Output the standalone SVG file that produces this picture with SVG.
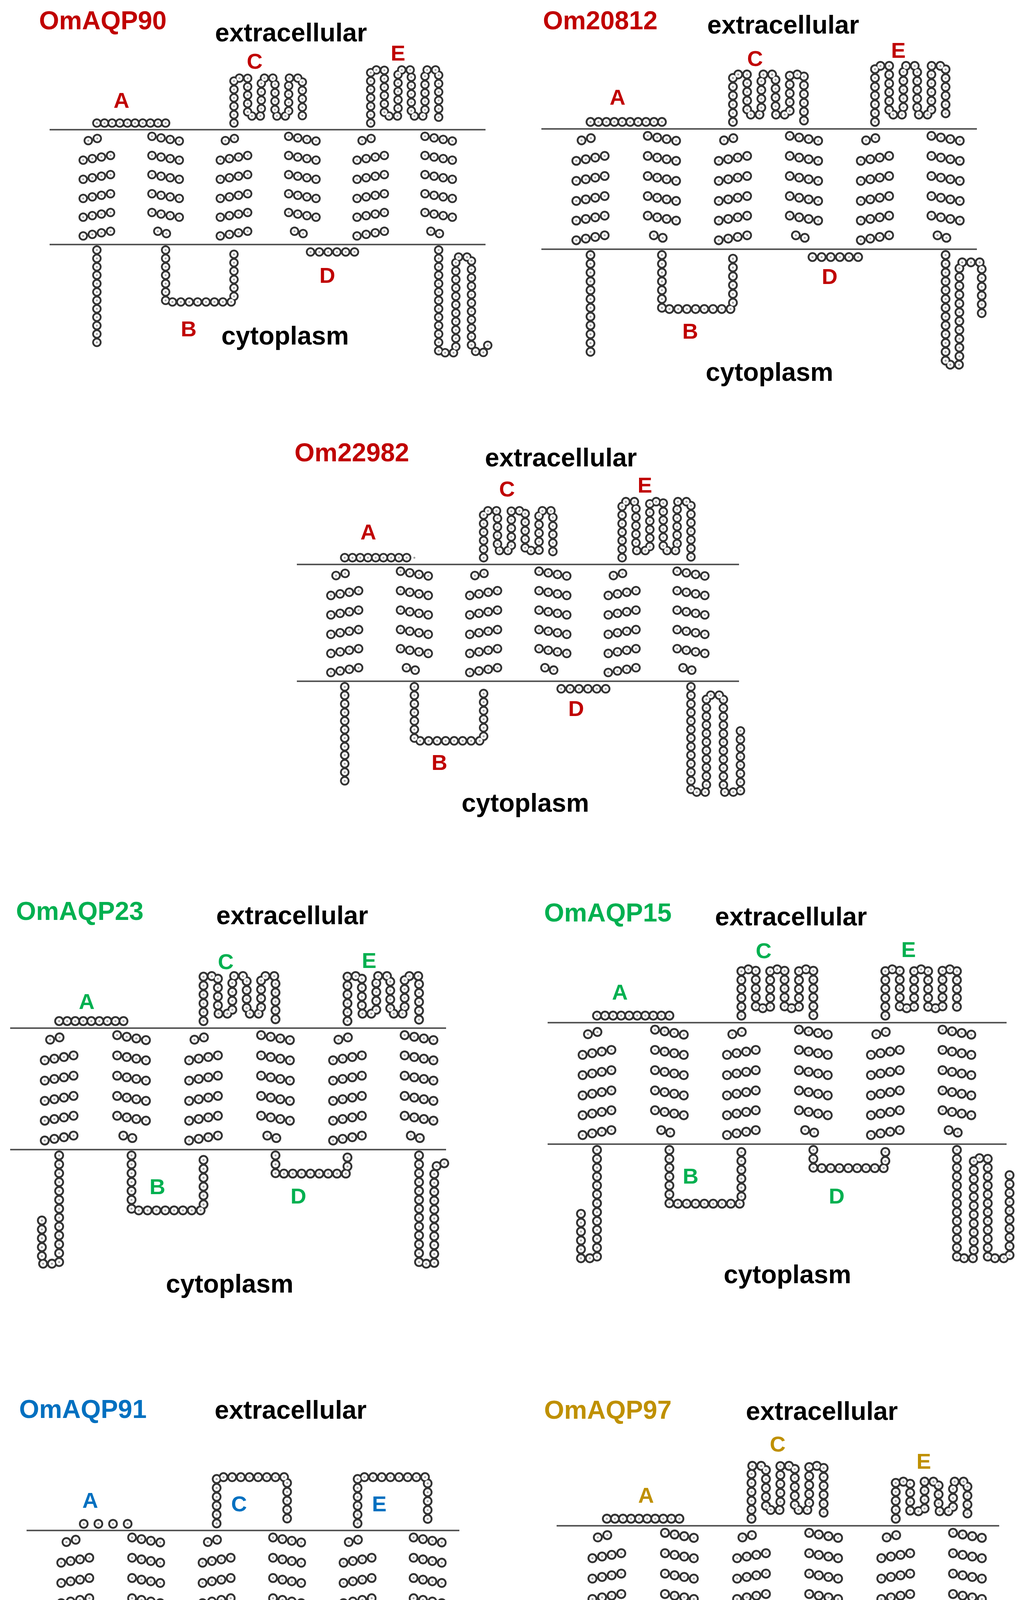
<svg xmlns="http://www.w3.org/2000/svg" xmlns:xlink="http://www.w3.org/1999/xlink" width="2619" height="4647" viewBox="0 0 2619 4647">
<style>
path{fill:none;stroke-linecap:round}
.r{stroke-dasharray:0 1}
.q{stroke-dasharray:0 21.5}
.ring{stroke:#333333;stroke-width:24}
.inner{stroke:#ffffff;stroke-width:15}
.dot{stroke:#a0a0a0;stroke-width:5}
.mem{stroke:#555;stroke-width:4}
text{font-family:"Liberation Sans",Arial,sans-serif;font-weight:bold}
.t{font-size:66px}
.x{font-size:66px;fill:#000;text-anchor:middle}
.l{font-size:56px;text-anchor:middle}
.red{fill:#c00000}.grn{fill:#00b050}.blu{fill:#0070c0}.gld{fill:#bf9000}
</style>
<defs>
<g id="helices">
<path class="r" pathLength="2" d="M99,28L145,17"/><path class="r" pathLength="3" d="M86,78L156,66"/><path class="r" pathLength="3" d="M86,127L156,115"/><path class="r" pathLength="3" d="M86,176L156,164"/><path class="r" pathLength="3" d="M86,224L156,212"/><path class="r" pathLength="3" d="M86,272L156,260"/>
<path class="r" pathLength="2" d="M450,28L496,17"/><path class="r" pathLength="3" d="M437,78L507,66"/><path class="r" pathLength="3" d="M437,127L507,115"/><path class="r" pathLength="3" d="M437,176L507,164"/><path class="r" pathLength="3" d="M437,224L507,212"/><path class="r" pathLength="3" d="M437,272L507,260"/>
<path class="r" pathLength="2" d="M800,28L846,17"/><path class="r" pathLength="3" d="M787,78L857,66"/><path class="r" pathLength="3" d="M787,127L857,115"/><path class="r" pathLength="3" d="M787,176L857,164"/><path class="r" pathLength="3" d="M787,224L857,212"/><path class="r" pathLength="3" d="M787,272L857,260"/>
<path class="r" pathLength="3" d="M262,17L332,29"/><path class="r" pathLength="3" d="M262,66L332,78"/><path class="r" pathLength="3" d="M262,115L332,127"/><path class="r" pathLength="3" d="M262,164L332,176"/><path class="r" pathLength="3" d="M262,212L332,224"/><path class="r" pathLength="2" d="M277,260L321,272"/>
<path class="r" pathLength="3" d="M612,17L682,29"/><path class="r" pathLength="3" d="M612,66L682,78"/><path class="r" pathLength="3" d="M612,115L682,127"/><path class="r" pathLength="3" d="M612,164L682,176"/><path class="r" pathLength="3" d="M612,212L682,224"/><path class="r" pathLength="2" d="M627,260L671,272"/>
<path class="r" pathLength="3" d="M961,17L1031,29"/><path class="r" pathLength="3" d="M961,66L1031,78"/><path class="r" pathLength="3" d="M961,115L1031,127"/><path class="r" pathLength="3" d="M961,164L1031,176"/><path class="r" pathLength="3" d="M961,212L1031,224"/><path class="r" pathLength="2" d="M976,260L1020,272"/>
</g>
<path id="A" class="r" pathLength="9" d="M121,-17H297"/>
<path id="Dh" class="r" pathLength="6" d="M668,313H803"/>
<g id="c1"><use href="#helices"/><use href="#A"/><use href="#Dh"/>
<path class="q" d="M472,-17V-132H507V-35H542V-132H577V-35H612V-132H647V-17"/>
<path class="q" d="M822,-17V-153H857V-35H892V-153H926V-35H961V-153H996V-17"/>
<path class="q" d="M121,308V553"/><path class="q" d="M297,308V441H472V308"/>
<path class="q" d="M996,308V571H1040V326H1080V559L1095,571H1110L1126,545"/></g>
<g id="c2"><use href="#helices"/><use href="#A"/><use href="#Dh"/>
<path class="q" d="M472,-17V-133H507V-35H542V-133H577V-35H612V-133H647V-17"/>
<path class="q" d="M822,-17V-154H857V-35H892V-154H926V-35H961V-154H996V-17"/>
<path class="q" d="M121,308V549"/><path class="q" d="M297,308V440H472V308"/>
<path class="q" d="M996,308V576H1030V326H1085V461"/></g>
<g id="c3"><use href="#helices"/><use href="#A"/><use href="#Dh"/>
<path class="q" d="M472,-17V-135H507V-35H542V-135H577V-35H612V-135H647V-17"/>
<path class="q" d="M822,-17V-158H857V-35H892V-158H926V-35H961V-158H996V-17"/>
<path class="q" d="M121,308V553"/><path class="q" d="M297,308V444H472V308"/>
<path class="q" d="M996,308V573H1035V329H1078V573H1121V415"/></g>
<g id="c4"><use href="#helices"/><use href="#A"/>
<path class="q" d="M472,-17V-126H507V-35H542V-126H577V-35H612V-126H647V-17"/>
<path class="q" d="M822,-17V-126H857V-35H892V-126H926V-35H961V-126H996V-17"/>
<path class="q" d="M121,308V570H79V461"/><path class="q" d="M297,308V441H472V308"/>
<path class="q" d="M647,308V352H822V308"/>
<path class="q" d="M996,308V570H1033V340L1045,327H1075"/></g>
<g id="c5"><use href="#helices"/><use href="#A"/>
<path class="q" d="M472,-17V-129H507V-35H542V-129H577V-35H612V-129H647V-17"/>
<path class="q" d="M822,-17V-129H857V-35H892V-129H926V-35H961V-129H996V-17"/>
<path class="q" d="M121,308V570H82V457"/><path class="q" d="M297,308V438H472V308"/>
<path class="q" d="M647,308V352H822V308"/>
<path class="q" d="M996,308V570H1037V328H1071V570H1124V352"/></g>
<g id="c6"><use href="#helices"/>
<path class="r" pathLength="3" d="M142,-16H251"/>
<path class="q" d="M472,-17V-129H647V-17"/>
<path class="q" d="M822,-17V-129H996V-17"/>
<path class="q" d="M121,308V578H81V352L66,338H44"/><path class="q" d="M297,308V441H472V308"/>
<path class="q" d="M647,308V336H822V308"/>
<path class="q" d="M996,308V573H1032V331H1086V510"/></g>
<g id="c7"><use href="#helices"/><use href="#A"/>
<path class="q" d="M472,-17V-144H507V-38H542V-144H577V-38H612V-144H647V-17"/>
<path class="q" d="M822,-17V-106H857V-35H892V-106H926V-35H961V-106H996V-17"/>
<path class="q" d="M121,308V570H79V416"/><path class="q" d="M297,308V398H354V326H412V398H472V308"/>
<path class="q" d="M647,308V357H822V308"/>
<path class="q" d="M996,308V570H1038V330H1080V487"/></g>
</defs>
<rect width="2619" height="4647" fill="#fff"/>

<g id="panel-OmAQP90">
<g transform="translate(127,332)"><use href="#c1" class="ring"/><use href="#c1" class="inner"/><use href="#c1" class="dot"/></g>
<line class="mem" x1="127" y1="332" x2="1243" y2="332"/><line class="mem" x1="127" y1="626" x2="1243" y2="626"/>
<text class="t red" x="100" y="75">OmAQP90</text>
<text class="x" x="745" y="106">extracellular</text><text class="x" x="730" y="882">cytoplasm</text>
<g class="red"><text class="l" x="311" y="276">A</text><text class="l" x="652" y="176">C</text><text class="l" x="1019" y="155">E</text><text class="l" x="838" y="724">D</text><text class="l" x="483" y="861">B</text></g>
</g>

<g id="panel-Om20812">
<g transform="translate(1386,330) scale(1.039,1.048)"><use href="#c2" class="ring"/><use href="#c2" class="inner"/><use href="#c2" class="dot"/></g>
<line class="mem" x1="1386" y1="330" x2="2501" y2="330"/><line class="mem" x1="1386" y1="638" x2="2501" y2="638"/>
<text class="t red" x="1390" y="75">Om20812</text>
<text class="x" x="2005" y="86">extracellular</text><text class="x" x="1970" y="975">cytoplasm</text>
<g class="red"><text class="l" x="1581" y="268">A</text><text class="l" x="1933" y="169">C</text><text class="l" x="2300" y="148">E</text><text class="l" x="2124" y="727">D</text><text class="l" x="1767" y="867">B</text></g>
</g>

<g id="panel-Om22982">
<g transform="translate(760,1445) scale(1.013,1.017)"><use href="#c3" class="ring"/><use href="#c3" class="inner"/><use href="#c3" class="dot"/></g>
<line class="mem" x1="760" y1="1445" x2="1892" y2="1445"/><line class="mem" x1="760" y1="1744" x2="1892" y2="1744"/>
<text class="t red" x="754" y="1181">Om22982</text>
<text class="x" x="1436" y="1194">extracellular</text><text class="x" x="1345" y="2078">cytoplasm</text>
<g class="red"><text class="l" x="943" y="1381">A</text><text class="l" x="1298" y="1271">C</text><text class="l" x="1651" y="1261">E</text><text class="l" x="1475" y="1833">D</text><text class="l" x="1125" y="1971">B</text></g>
</g>

<g id="panel-OmAQP23">
<g transform="translate(24,2632) scale(1.053,1.058)"><use href="#c4" class="ring"/><use href="#c4" class="inner"/><use href="#c4" class="dot"/></g>
<line class="mem" x1="26" y1="2632" x2="1142" y2="2632"/><line class="mem" x1="26" y1="2943" x2="1142" y2="2943"/>
<text class="t grn" x="41" y="2355">OmAQP23</text>
<text class="x" x="748" y="2366">extracellular</text><text class="x" x="588" y="3309">cytoplasm</text>
<g class="grn"><text class="l" x="222" y="2583">A</text><text class="l" x="578" y="2481">C</text><text class="l" x="945" y="2478">E</text><text class="l" x="403" y="3057">B</text><text class="l" x="764" y="3081">D</text></g>
</g>

<g id="panel-OmAQP15">
<g transform="translate(1401,2618) scale(1.053,1.058)"><use href="#c5" class="ring"/><use href="#c5" class="inner"/><use href="#c5" class="dot"/></g>
<line class="mem" x1="1402" y1="2618" x2="2577" y2="2618"/><line class="mem" x1="1402" y1="2929" x2="2577" y2="2929"/>
<text class="t grn" x="1393" y="2359">OmAQP15</text>
<text class="x" x="2025" y="2369">extracellular</text><text class="x" x="2016" y="3285">cytoplasm</text>
<g class="grn"><text class="l" x="1587" y="2559">A</text><text class="l" x="1955" y="2453">C</text><text class="l" x="2326" y="2450">E</text><text class="l" x="1768" y="3030">B</text><text class="l" x="2142" y="3081">D</text></g>
</g>

<g id="panel-OmAQP91">
<g transform="translate(68,3918) scale(1.031,1.058)"><use href="#c6" class="ring"/><use href="#c6" class="inner"/><use href="#c6" class="dot"/></g>
<line class="mem" x1="68" y1="3918" x2="1176" y2="3918"/><line class="mem" x1="68" y1="4229" x2="1176" y2="4229"/>
<text class="t blu" x="49" y="3630">OmAQP91</text>
<text class="x" x="744" y="3632">extracellular</text><text class="x" x="605" y="4605">cytoplasm</text>
<g class="blu"><text class="l" x="231" y="3860">A</text><text class="l" x="612" y="3869">C</text><text class="l" x="971" y="3869">E</text><text class="l" x="437" y="4330">B</text><text class="l" x="797" y="4352">D</text></g>
</g>

<g id="panel-OmAQP97">
<g transform="translate(1426,3906) scale(1.055,1.065)"><use href="#c7" class="ring"/><use href="#c7" class="inner"/><use href="#c7" class="dot"/></g>
<line class="mem" x1="1425" y1="3906" x2="2558" y2="3906"/><line class="mem" x1="1425" y1="4219" x2="2558" y2="4219"/>
<text class="t gld" x="1393" y="3632">OmAQP97</text>
<text class="x" x="2104" y="3635">extracellular</text><text class="x" x="2012" y="4583">cytoplasm</text>
<g class="gld"><text class="l" x="1654" y="3847">A</text><text class="l" x="1991" y="3716">C</text><text class="l" x="2365" y="3760">E</text><text class="l" x="1807" y="4433">B</text><text class="l" x="2178" y="4363">D</text></g>
</g>
</svg>
